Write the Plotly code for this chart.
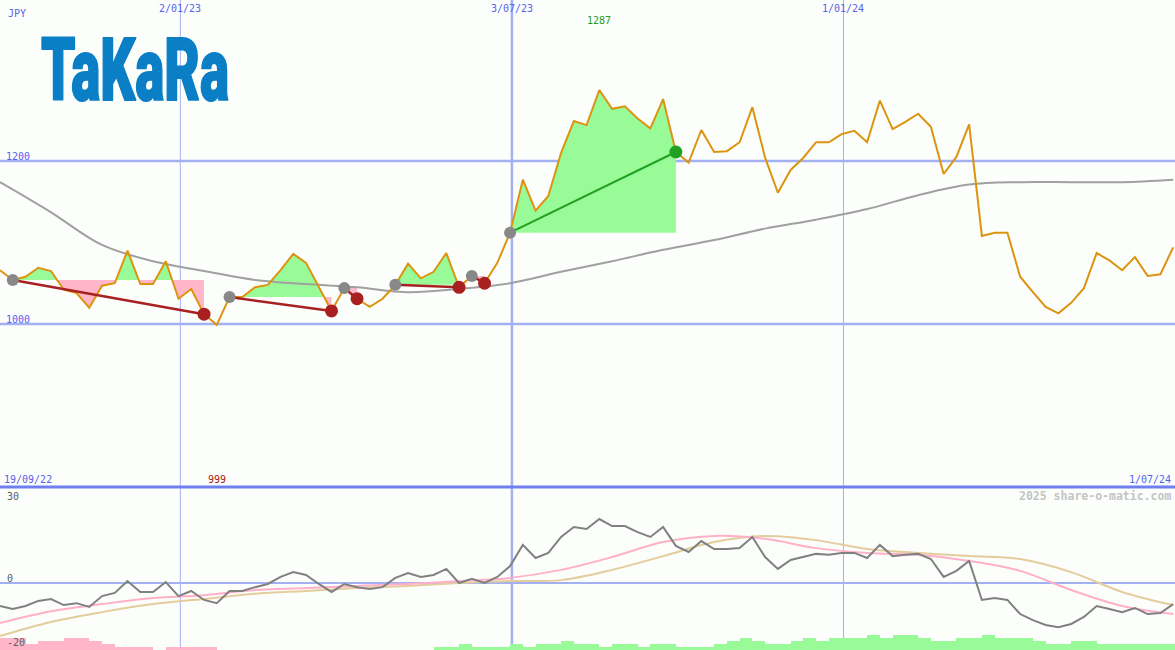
import pandas as pd
import plotly.graph_objects as go

# ---------------- data ----------------
start_date = "2022-09-25"
end_date = "2024-07-01"
n_weeks = 93
dates = pd.date_range(start_date, periods=n_weeks, freq="7D")

price = [1066, 1054, 1058, 1069, 1065, 1042, 1038, 1020, 1047, 1050,
         1090, 1049, 1049, 1077, 1031, 1043, 1012, 999, 1033, 1033,
         1045, 1048, 1066, 1086, 1075, 1045, 1016, 1044, 1031, 1021,
         1031, 1048, 1074, 1056, 1064, 1087, 1045, 1059, 1050, 1075,
         1112, 1177, 1139, 1157, 1210, 1249, 1244, 1287, 1264, 1267,
         1252, 1240, 1276, 1211, 1198, 1238, 1211, 1212, 1223, 1266,
         1204, 1161, 1189, 1204, 1223, 1223, 1233, 1237, 1223, 1274,
         1239, 1248, 1258, 1242, 1184, 1205, 1245, 1108, 1112, 1112,
         1058, 1039, 1021, 1013, 1026, 1044, 1087, 1078, 1066, 1082,
         1059, 1061, 1094]

# sampled (every 4th week) smooth series
sample_idx = list(range(0, n_weeks, 4))
ma_price = [1174, 1137, 1097, 1077, 1065, 1054, 1049, 1045, 1039, 1043,
            1050, 1064, 1077, 1091, 1103, 1117, 1128, 1141, 1158, 1171,
            1174, 1174, 1174, 1177]

momentum = [-7.2, -8.1, -7.2, -5.6, -5.0, -6.9, -6.3, -7.5, -4.1, -3.1,
            0.6, -2.8, -2.8, 0.3, -4.1, -2.5, -5.3, -6.3, -2.5, -2.5,
            -1.3, -0.3, 1.9, 3.4, 2.5, -0.3, -2.8, -0.3, -1.3, -1.9,
            -1.3, 1.6, 3.1, 1.9, 2.5, 4.4, 0.0, 1.3, 0.0, 1.9,
            5.3, 11.9, 7.8, 9.4, 14.4, 17.5, 16.9, 20.0, 17.8, 17.8,
            15.9, 14.4, 17.5, 11.6, 9.7, 13.1, 10.6, 10.6, 10.9, 14.4,
            8.1, 4.4, 7.2, 8.1, 9.1, 8.8, 9.4, 9.4, 7.8, 11.9,
            8.4, 8.8, 9.1, 7.5, 1.9, 3.8, 6.9, -5.3, -4.7, -5.3,
            -9.7, -11.6, -13.1, -13.8, -12.8, -10.6, -7.2, -8.1, -9.1, -7.8,
            -9.7, -9.4, -6.6]

mom_fast = [-12.5, -8.8, -6.6, -4.7, -3.8, -2.2, -1.6, -0.9, -0.3, 0.6,
            1.6, 4.1, 8.1, 12.8, 14.7, 13.8, 10.9, 9.4, 8.8, 6.9,
            3.8, -2.2, -7.2, -9.7]
mom_slow = [-16.6, -12.2, -9.1, -6.6, -5.0, -3.4, -2.5, -1.6, -0.9, 0.0,
            0.6, 0.9, 4.1, 8.4, 12.8, 14.7, 13.4, 10.6, 9.4, 8.4,
            7.5, 3.4, -2.8, -6.9]

hist = [-4, -4, -2, -3, -3, -4, -4, -3, -2, -1, -1, -1, 0, -1, -1, -1, -1,
        0, 0, 0, 0, 0, 0, 0, 0, 0, 0, 0, 0, 0, 0, 0, 0, 0,
        1, 1, 2, 1, 1, 1, 2, 1, 2, 2, 3, 2, 2, 1, 2, 2, 1, 2, 2, 1,
        1, 1, 2, 3, 4, 3, 2, 2, 3, 4, 3, 4, 4, 4, 5, 4, 5, 5, 4, 3,
        3, 4, 4, 5, 4, 4, 4, 3, 2, 2, 3, 3, 2, 2, 2, 2, 2, 2, 2]

trends = [(1, 16), (18, 26), (27, 28), (31, 36), (37, 38), (40, 53)]

grid_dates = ["2023-01-02", "2023-07-03", "2024-01-01"]
grid_widths = [1, 2.5, 1]
grid_labels = ["2/01/23", "3/07/23", "1/01/24"]
price_grid = [1000, 1200]
low_labels = ["30", "0", "-20"]

# ---------------- styles ----------------
W, H = 1175, 650
BG = "#fcfefc"
BLUE_TXT = "#5563ee"
GRID = "#a3b1f2"
ORANGE = "#dc9410"
GREEN_FILL = "#98fb98"
PINK_FILL = "#ffb6c8"
RED = "#a82020"
GREEN = "#22a022"
LOGO = "#0a7fc6"
MONO = "DejaVu Sans Mono"

split = 163 / H  # lower panel height fraction


def py(ypx):
    return 1 - ypx / H


def px(xpx):
    return xpx / W


fig = go.Figure()

# trend fills
for s, e in trends:
    b = price[s]
    xs = [dates[s]]
    ys = [price[s]]
    for i in range(s, e):
        p0, p1 = price[i], price[i + 1]
        if (p0 - b) * (p1 - b) < 0:
            f = (b - p0) / (p1 - p0)
            xs.append(dates[i] + (dates[i + 1] - dates[i]) * f)
            ys.append(b)
        xs.append(dates[i + 1])
        ys.append(p1)
    up = [max(y, b) for y in ys]
    dn = [min(y, b) for y in ys]
    fig.add_trace(go.Scatter(x=xs + xs[::-1], y=up + [b] * len(xs), fill="toself",
                             fillcolor=GREEN_FILL, line=dict(width=0), mode="lines",
                             hoverinfo="skip", showlegend=False))
    fig.add_trace(go.Scatter(x=xs + xs[::-1], y=[b] * len(xs) + dn[::-1], fill="toself",
                             fillcolor=PINK_FILL, line=dict(width=0), mode="lines",
                             hoverinfo="skip", showlegend=False))

# moving average
fig.add_trace(go.Scatter(x=[dates[i] for i in sample_idx], y=ma_price, mode="lines",
                         line=dict(color="#a0a0a0", width=2, shape="spline"), showlegend=False))
# price
fig.add_trace(go.Scatter(x=dates, y=price, mode="lines",
                         line=dict(color=ORANGE, width=2), showlegend=False))

# trend lines and markers
for s, e in trends:
    up_trend = price[e] > price[s]
    fig.add_trace(go.Scatter(x=[dates[s], dates[e]], y=[price[s], price[e]], mode="lines",
                             line=dict(color=GREEN if up_trend else RED,
                                       width=2 if up_trend else 2.5),
                             showlegend=False))
for s, e in trends:
    col = GREEN if price[e] > price[s] else RED
    fig.add_trace(go.Scatter(x=[dates[s]], y=[price[s]], mode="markers",
                             marker=dict(color="#888888", size=12), showlegend=False))
    fig.add_trace(go.Scatter(x=[dates[e]], y=[price[e]], mode="markers",
                             marker=dict(color=col, size=13), showlegend=False))

# lower panel histogram
bar_x = [d + pd.Timedelta(days=3.5) for d in dates]
fig.add_trace(go.Bar(x=bar_x, y=[abs(v) for v in hist], width=7 * 86400000,
                     marker=dict(color=[GREEN_FILL if v > 0 else PINK_FILL for v in hist],
                                 line=dict(width=0)),
                     yaxis="y3", showlegend=False))
# lower panel lines
fig.add_trace(go.Scatter(x=[dates[i] for i in sample_idx], y=mom_slow, mode="lines",
                         line=dict(color="#e4cc9c", width=2, shape="spline"),
                         yaxis="y2", showlegend=False))
fig.add_trace(go.Scatter(x=[dates[i] for i in sample_idx], y=mom_fast, mode="lines",
                         line=dict(color="#ffb0c8", width=2, shape="spline"),
                         yaxis="y2", showlegend=False))
fig.add_trace(go.Scatter(x=dates, y=momentum, mode="lines",
                         line=dict(color="#808080", width=2), yaxis="y2", showlegend=False))

shapes = []
for d, w in zip(grid_dates, grid_widths):
    shapes.append(dict(type="line", xref="x", yref="paper", x0=d, x1=d, y0=0, y1=1,
                       line=dict(color=GRID, width=w), layer="below"))
for v in price_grid:
    shapes.append(dict(type="line", xref="paper", yref="y", x0=0, x1=1, y0=v, y1=v,
                       line=dict(color=GRID, width=2.5), layer="below"))
shapes.append(dict(type="line", xref="paper", yref="y2", x0=0, x1=1, y0=0, y1=0,
                   line=dict(color=GRID, width=2), layer="below"))
shapes.append(dict(type="line", xref="paper", yref="paper", x0=0, x1=1, y0=split, y1=split,
                   line=dict(color="#6f7ff0", width=3), layer="above"))

ann = []


def txt(t, x, y, color, size=10, xanchor="left", xref="paper", bold=False, family=MONO):
    ann.append(dict(text=t, x=x, y=y, xref=xref, yref="paper", xanchor=xanchor,
                    yanchor="middle", showarrow=False,
                    font=dict(family=family, size=size, color=color,
                              weight="bold" if bold else "normal")))


txt("JPY", px(6), py(14), BLUE_TXT)
for d, lab in zip(grid_dates, grid_labels):
    txt(lab, d, py(8), BLUE_TXT, xanchor="center", xref="x")
txt(str(price_grid[1]), px(4), py(156), BLUE_TXT)
txt(str(price_grid[0]), px(4), py(319), BLUE_TXT)
txt("19/09/22", px(2), py(479), BLUE_TXT)
txt("1/07/24", px(1173), py(479), BLUE_TXT, xanchor="right")
imin = price.index(min(price))
imax = price.index(max(price))
txt(str(min(price)), dates[imin], py(479), "#a01818", xanchor="center", xref="x")
txt(str(max(price)), dates[imax], py(21), "#1f9a1f", xanchor="center", xref="x")
txt("2025 share-o-matic.com", px(1173), py(496), "#c4c4c4", size=11.5, xanchor="right", bold=True)
txt(low_labels[0], px(5), py(496), "#606060")
txt(low_labels[1], px(5), py(578), "#606060")
txt(low_labels[2], px(5), py(642), "#606060")
ann.append(dict(text="TaKaRa", x=px(135), y=py(69), xref="paper", yref="paper",
                xanchor="center", yanchor="middle", showarrow=False,
                font=dict(family="Roboto, Liberation Sans, sans-serif", size=88,
                          color=LOGO, weight=900)))

fig.update_layout(
    width=W, height=H,
    margin=dict(l=0, r=0, t=0, b=0),
    paper_bgcolor=BG, plot_bgcolor=BG,
    showlegend=False,
    bargap=0,
    xaxis=dict(range=[start_date, end_date], visible=False, showgrid=False),
    yaxis=dict(domain=[split, 1], range=[800, 1397.5], visible=False, showgrid=False),
    yaxis2=dict(domain=[0, split], range=[-20.94, 30], visible=False, showgrid=False),
    yaxis3=dict(overlaying="y2", range=[0, 163 / 3.1], visible=False, showgrid=False),
    shapes=shapes,
    annotations=ann,
)

post = """
document.body.style.margin = '0px';
document.body.style.overflow = 'hidden';
(function () {
  function fit() {
    var els = document.querySelectorAll('text.annotation-text');
    for (var i = 0; i < els.length; i++) {
      var t = els[i];
      if (t.textContent !== 'TaKaRa') continue;
      t.style.stroke = '""" + LOGO + """';
      t.style.strokeWidth = '2px';
      t.style.strokeLinejoin = 'round';
      var bb = t.getBBox();
      if (!bb.width) continue;
      var sx = 188 / bb.width;
      var cx = bb.x + bb.width / 2, cy = bb.y + bb.height / 2;
      t.setAttribute('transform', 'translate(' + cx + ',' + cy + ') scale(' + sx + ',1) translate(' + (-cx) + ',' + (-cy) + ')');
    }
  }
  fit();
  setTimeout(fit, 50);
  setTimeout(fit, 300);
  var gd = document.getElementById('{plot_id}');
  if (gd && gd.on) { gd.on('plotly_afterplot', fit); }
})();
"""

fig.write_html("out.html", post_script=post, config={"displayModeBar": False})
